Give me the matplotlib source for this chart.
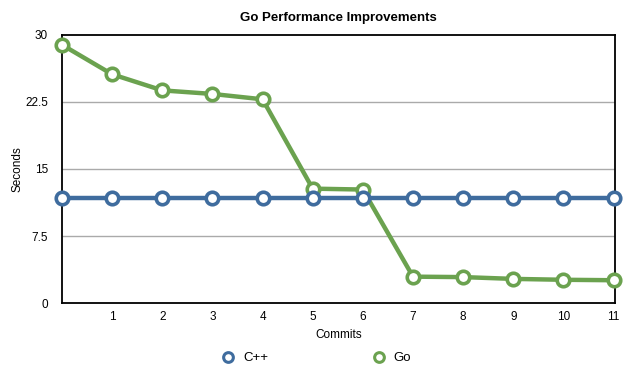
import matplotlib.pyplot as plt
from matplotlib.lines import Line2D

plt.rcParams['font.family'] = ['Liberation Sans', 'DejaVu Sans']

commits = list(range(12))
cpp = [11.8] * 12
go = [28.9, 25.6, 23.8, 23.4, 22.8, 12.8, 12.7, 2.95, 2.9, 2.7, 2.6, 2.55]
yticks = [0, 7.5, 15, 22.5, 30]
ytick_labels = ['0', '7.5', '15', '22.5', '30']
xticks = list(range(1, 12))

blue = '#3f6c9e'
green = '#6ba24f'

fig = plt.figure(figsize=(6.35, 3.79), dpi=100)
ax = fig.add_axes([0.0976, 0.2005, 0.871, 0.7072])

ax.set_ylim(0, 30)
ax.set_xlim(0, 11.03)
for y in yticks[1:-1]:
    ax.axhline(y, color='#aaaaaa', lw=1.0, zorder=0)

mk = dict(marker='o', markersize=9, markerfacecolor='white', markeredgewidth=2.6, lw=3.2, clip_on=False)
ax.plot(commits, go, color=green, markeredgecolor=green, zorder=3, **mk)
ax.plot(commits, cpp, color=blue, markeredgecolor=blue, zorder=4, **mk)

ax.set_yticks(yticks)
ax.set_yticklabels(ytick_labels)
ax.set_xticks(xticks)
ax.tick_params(length=0, labelsize=8.5)
ax.tick_params(axis='y', pad=10)
ax.tick_params(axis='x', pad=6)
for s in ax.spines.values():
    s.set_linewidth(1.3)
    s.set_color('black')

ax.set_title('Go Performance Improvements', fontsize=9.5, fontweight='bold', pad=10)
ax.set_ylabel('Seconds', fontsize=8.5, labelpad=1)
ax.set_xlabel('Commits', fontsize=8.5, labelpad=4)

handles = [Line2D([], [], ls='none', marker='o', markersize=7, markerfacecolor='white',
                  markeredgecolor=c, markeredgewidth=2.2) for c in (blue, green)]
fig.legend(handles, ['C++', 'Go'], loc='center', bbox_to_anchor=(0.497, 0.055), ncol=2,
           frameon=False, fontsize=9.5, columnspacing=7.8, handletextpad=0.5, handlelength=1.2)

fig.savefig('out.png', dpi=100)
